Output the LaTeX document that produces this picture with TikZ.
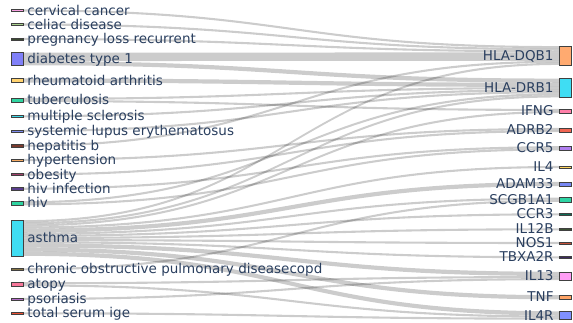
\documentclass[tikz,border=0pt]{standalone}
\usepackage{fontspec}
\setmainfont{DejaVu Sans}
\usetikzlibrary{calc}
\pgfdeclarelayer{bg}
\pgfsetlayers{bg,main}
\definecolor{txt}{HTML}{2A3F5F}
\definecolor{cCerv}{HTML}{F79FE0}
\definecolor{cCeli}{HTML}{A8D08D}
\definecolor{cPreg}{HTML}{3B4A32}
\definecolor{cDiab}{HTML}{8080F8}
\definecolor{cRA}{HTML}{FFD26E}
\definecolor{cTB}{HTML}{2FD4A0}
\definecolor{cMS}{HTML}{3FD8E8}
\definecolor{cSLE}{HTML}{7E8CF0}
\definecolor{cHepb}{HTML}{7A3B2E}
\definecolor{cHyp}{HTML}{F5A962}
\definecolor{cObes}{HTML}{A0406A}
\definecolor{cHivi}{HTML}{5B3E8E}
\definecolor{cHiv}{HTML}{2ED3A0}
\definecolor{cAsth}{HTML}{40DDF2}
\definecolor{cCopd}{HTML}{867444}
\definecolor{cAtop}{HTML}{F7779A}
\definecolor{cPsor}{HTML}{B46CC8}
\definecolor{cIge}{HTML}{EE5033}
\definecolor{cDqb}{HTML}{FFAA70}
\definecolor{cDrb}{HTML}{3FDDF3}
\definecolor{cIfng}{HTML}{FF7FA8}
\definecolor{cAdrb}{HTML}{F06552}
\definecolor{cCcrf}{HTML}{B07FF0}
\definecolor{cIlf}{HTML}{FFD45E}
\definecolor{cAdam}{HTML}{7787F2}
\definecolor{cScgb}{HTML}{2ED4A4}
\definecolor{cCcrt}{HTML}{0E6B55}
\definecolor{cIlt}{HTML}{3E5234}
\definecolor{cNos}{HTML}{C5513A}
\definecolor{cTbx}{HTML}{3D2A5E}
\definecolor{cIlth}{HTML}{FF9EF5}
\definecolor{cTnf}{HTML}{FFA466}
\definecolor{cIlfr}{HTML}{8090FF}
\def\uu{2.1}
\tikzset{
  nd/.style={rectangle, draw=black!75, line width=0.5pt, minimum width=11.5pt, inner sep=0pt, outer sep=0pt},
  lblL/.style={anchor=base west, inner sep=0pt, text=txt, font=\fontsize{13.5}{16}\selectfont},
  lblR/.style={anchor=base east, inner sep=0pt, text=txt, font=\fontsize{13.5}{16}\selectfont},
  lnkfill/.style={fill=black, fill opacity=0.2}
}
\newcommand\lnode[5]{%
  \node[nd, fill=#5, minimum height={#4*\uu*1pt}] (#1) at (17,#2) {};
  \node[lblL] (t#1) at ([xshift=4.5pt,yshift=-4.6pt]#1.east) {#3};}
\newcommand\rnode[5]{%
  \node[nd, fill=#5, minimum height={#4*\uu*1pt}] (#1) at (565,#2) {};
  \node[lblR] (t#1) at ([xshift=-5.5pt,yshift=-4.6pt]#1.west) {#3};}
\newcommand\lnk[5]{%
  \path ($(#1.north east)+(0,{#2*\uu})$) coordinate (s0)
        ($(#1.north east)+(0,{(#2+#5)*\uu})$) coordinate (s1)
        ($(#3.north west)+(0,{#4*\uu})$) coordinate (t0)
        ($(#3.north west)+(0,{(#4+#5)*\uu})$) coordinate (t1);
  \begin{pgfonlayer}{bg}
  \fill[lnkfill] (s0) .. controls (s0-|mid) and (t0-|mid) .. (t0) -- (t1)
     .. controls (t1-|mid) and (s1-|mid) .. (s1) -- cycle;
  \end{pgfonlayer}}
\begin{document}
\begin{tikzpicture}[x=1pt,y=-1pt]
\useasboundingbox (0,0) rectangle (573,322);
\coordinate (mid) at (291,0);
% left nodes
\lnode{cerv}{10.5}{cervical cancer}{1}{cCerv}
\lnode{celi}{24.5}{celiac disease}{1}{cCeli}
\lnode{preg}{39}{pregnancy loss recurrent}{1}{cPreg}
\lnode{diab}{59}{diabetes type 1}{6}{cDiab}
\lnode{ra}{80.5}{rheumatoid arthritis}{2}{cRA}
\lnode{tb}{100}{tuberculosis}{2}{cTB}
\lnode{ms}{116.3}{multiple sclerosis}{1}{cMS}
\lnode{sle}{131}{systemic lupus erythematosus}{1}{cSLE}
\lnode{hepb}{145.7}{hepatitis b}{1}{cHepb}
\lnode{hyp}{160}{hypertension}{1}{cHyp}
\lnode{obes}{174.5}{obesity}{1}{cObes}
\lnode{hivi}{188.7}{hiv infection}{1}{cHivi}
\lnode{hiv}{203.3}{hiv}{2}{cHiv}
\lnode{asth}{238}{asthma}{17}{cAsth}
\lnode{copd}{269.3}{chronic obstructive pulmonary diseasecopd}{1}{cCopd}
\lnode{atop}{284.3}{atopy}{2}{cAtop}
\lnode{psor}{299}{psoriasis}{1}{cPsor}
\lnode{ige}{313.3}{total serum ige}{1}{cIge}
% right nodes
\rnode{dqb}{55.5}{HLA-DQB1}{9}{cDqb}
\rnode{drb}{88}{HLA-DRB1}{9}{cDrb}
\rnode{ifng}{111}{IFNG}{2}{cIfng}
\rnode{adrb}{130}{ADRB2}{2}{cAdrb}
\rnode{ccrf}{148.3}{CCR5}{2}{cCcrf}
\rnode{ilf}{167}{IL4}{1}{cIlf}
\rnode{adam}{184}{ADAM33}{2}{cAdam}
\rnode{scgb}{199.7}{SCGB1A1}{2}{cScgb}
\rnode{ccrt}{214.3}{CCR3}{1}{cCcrt}
\rnode{ilt}{229.3}{IL12B}{1}{cIlt}
\rnode{nos}{243}{NOS1}{1}{cNos}
\rnode{tbx}{257.3}{TBXA2R}{1}{cTbx}
\rnode{ilth}{276}{IL13}{4}{cIlth}
\rnode{tnf}{297.3}{TNF}{2}{cTnf}
\rnode{ilfr}{315.5}{IL4R}{4}{cIlfr}
% links
\lnk{cerv}{0}{dqb}{0}{1}
\lnk{celi}{0}{dqb}{1}{1}
\lnk{preg}{0}{dqb}{2}{1}
\lnk{diab}{0}{dqb}{3}{4}
\lnk{diab}{4}{drb}{0}{2}
\lnk{ra}{0}{drb}{2}{2}
\lnk{tb}{0}{drb}{4}{1}
\lnk{tb}{1}{ifng}{0}{1}
\lnk{ms}{0}{drb}{5}{1}
\lnk{sle}{0}{drb}{6}{1}
\lnk{hepb}{0}{dqb}{7}{1}
\lnk{hyp}{0}{adrb}{0}{1}
\lnk{obes}{0}{adrb}{1}{1}
\lnk{hivi}{0}{ccrf}{0}{1}
\lnk{hiv}{0}{drb}{7}{1}
\lnk{hiv}{1}{ccrf}{1}{1}
\lnk{asth}{0}{dqb}{8}{1}
\lnk{asth}{1}{drb}{8}{1}
\lnk{asth}{2}{ifng}{1}{1}
\lnk{asth}{3}{ilf}{0}{1}
\lnk{asth}{4}{adam}{0}{2}
\lnk{asth}{6}{scgb}{0}{1}
\lnk{asth}{7}{ccrt}{0}{1}
\lnk{asth}{8}{ilt}{0}{1}
\lnk{asth}{9}{nos}{0}{1}
\lnk{asth}{10}{tbx}{0}{1}
\lnk{asth}{11}{ilth}{0}{2}
\lnk{asth}{13}{tnf}{0}{2}
\lnk{asth}{15}{ilfr}{0}{2}
\lnk{copd}{0}{scgb}{1}{1}
\lnk{atop}{0}{ilth}{2}{1}
\lnk{atop}{1}{ilfr}{2}{1}
\lnk{psor}{0}{ilth}{3}{1}
\lnk{ige}{0}{ilfr}{3}{1}
\end{tikzpicture}
\end{document}
